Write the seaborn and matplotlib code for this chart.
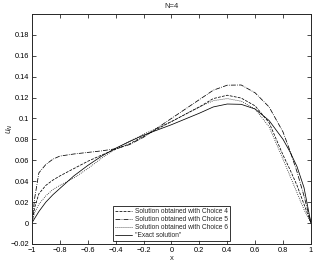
import numpy as np
import pandas as pd
import matplotlib
matplotlib.use("Agg")
import matplotlib.pyplot as plt
import seaborn as sns

x = [-1, -0.98, -0.95, -0.9, -0.85, -0.8, -0.7, -0.6, -0.5, -0.4, -0.3, -0.2, -0.1,
     0, 0.1, 0.2, 0.3, 0.4, 0.5, 0.6, 0.7, 0.8, 0.85, 0.9, 0.95, 1.0]

choice4 = [0, 0.015, 0.028, 0.036, 0.041, 0.045, 0.052, 0.059, 0.065, 0.0705, 0.0757, 0.083,
           0.090, 0.097, 0.104, 0.111, 0.119, 0.1222, 0.1195, 0.112, 0.096, 0.065, 0.051,
           0.036, 0.018, 0]
choice5 = [0, 0.024, 0.048, 0.056, 0.061, 0.064, 0.066, 0.0675, 0.069, 0.071, 0.075, 0.082,
           0.091, 0.100, 0.109, 0.118, 0.127, 0.1318, 0.132, 0.1245, 0.111, 0.087, 0.069,
           0.049, 0.026, 0]
choice6 = [0, 0.010, 0.018, 0.026, 0.032, 0.036, 0.043, 0.052, 0.062, 0.071, 0.078, 0.085,
           0.091, 0.097, 0.104, 0.111, 0.117, 0.119, 0.1165, 0.109, 0.092, 0.061, 0.045,
           0.029, 0.013, 0]
exact = [0, 0.0045, 0.011, 0.020, 0.027, 0.033, 0.045, 0.055, 0.064, 0.0715, 0.078, 0.084,
         0.089, 0.094, 0.0995, 0.105, 0.111, 0.1138, 0.1135, 0.109, 0.098, 0.080, 0.068,
         0.054, 0.034, 0]

labels = ["Solution obtained with Choice 4", "Solution obtained with Choice 5",
          "Solution obtained with Choice 6", "\"Exact solution\""]
series = [choice4, choice5, choice6, exact]
styles = ["--", "-.", ":", "-"]

xtick_labels = ["\u22121", "\u22120.8", "\u22120.6", "\u22120.4", "\u22120.2", "0", "0.2",
                "0.4", "0.6", "0.8", "1"]
ytick_labels = ["\u22120.02", "0", "0.02", "0.04", "0.06", "0.08", "0.1", "0.12", "0.14",
                "0.16", "0.18"]

sns.set_style("ticks")
plt.rcParams["font.family"] = ["Liberation Sans", "DejaVu Sans"]

fig = plt.figure(figsize=(3.16, 2.62), dpi=100)
ax = fig.add_axes([0.101, 0.069, 0.883, 0.878])

for ys, lab, ls in zip(series, labels, styles):
    df = pd.DataFrame({"x": x, "u": ys})
    sns.lineplot(data=df, x="x", y="u", ax=ax, color="black", linestyle=ls,
                 linewidth=0.55, label=lab)

ax.set_xlim(-1, 1)
ax.set_ylim(-0.02, 0.2)
ax.set_xticks(np.arange(-1, 1.01, 0.2))
ax.set_xticklabels(xtick_labels)
ax.set_yticks(np.arange(-0.02, 0.181, 0.02))
ax.set_yticklabels(ytick_labels)
ax.tick_params(direction="in", length=3, width=0.5, labelsize=5.3, top=True, right=True,
               pad=2, colors="black")
for s in ax.spines.values():
    s.set_linewidth(0.7)
    s.set_visible(True)

ax.set_title("N=4", fontsize=5.5, pad=4)
ax.set_xlabel("x", fontsize=5.5, labelpad=1)
ax.set_ylabel("$u_N$", fontsize=5.5, va="center", ha="center")
# keep the y label inside the figure, just left of the tick labels
ax.yaxis.set_label_coords(-0.08, 0.5)

leg = ax.legend(loc="lower center", fontsize=4.8, frameon=True, fancybox=False,
                edgecolor="black", borderpad=0.3, labelspacing=0.15, handlelength=2.6,
                handletextpad=0.4, borderaxespad=0.4)
leg.get_frame().set_linewidth(0.7)

fig.savefig("out.png", dpi=100)
